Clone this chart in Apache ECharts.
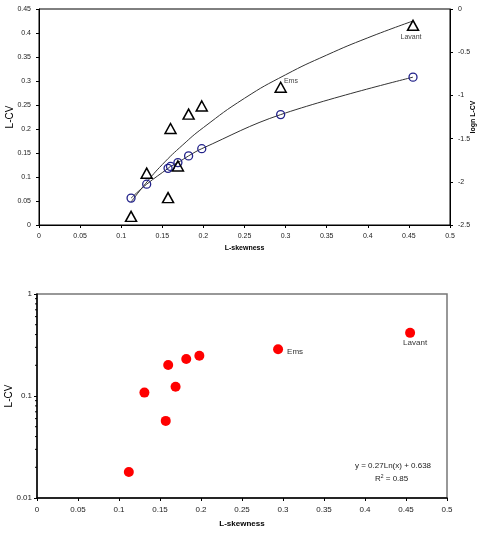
<!DOCTYPE html>
<html>
<head>
<meta charset="utf-8">
<script src="https://cdn.jsdelivr.net/npm/echarts@6/dist/echarts.min.js"></script>
<style>
  html, body { margin: 0; padding: 0; background: #fff; }
  #chart { width: 479px; height: 539px; }
</style>
</head>
<body>
<div id="chart"></div>
<script>
// L-skewness of each station
const skew = [0.112, 0.131, 0.157, 0.160, 0.169, 0.182, 0.198, 0.294, 0.455];
// observed L-CV (triangles / red dots)
const lcv = [0.018, 0.108, 0.057, 0.201, 0.123, 0.231, 0.248, 0.287, 0.416];
// second series, open circles
const circ = [0.056, 0.085, 0.118, 0.122, 0.130, 0.144, 0.159, 0.230, 0.308];
// names shown beside two stations
const names = ['', '', '', '', '', '', '', 'Ems', 'Lavant'];
// upper trend curve
const trendX = [0.112, 0.13, 0.15, 0.175, 0.2, 0.25, 0.3, 0.35, 0.4, 0.455];
const trendY = [0.048, 0.087, 0.126, 0.167, 0.203, 0.264, 0.313, 0.354, 0.390, 0.425];
// log axis minor ticks
const minorTicks = [0.02, 0.03, 0.04, 0.05, 0.06, 0.07, 0.08, 0.09, 0.2, 0.3, 0.4, 0.5, 0.6, 0.7, 0.8, 0.9];

const font = 'Liberation Sans, Arial, sans-serif';
const chart = echarts.init(document.getElementById('chart'));

const pts = (ys) => skew.map((x, i) => [x, ys[i]]);

// label placement for the named stations, top and bottom chart
const topLabel = {
    Ems: { position: 'right', distance: -3, offset: [0, -6] },
    Lavant: { position: 'bottom', distance: 3, offset: [-2, 0] }
};
const botLabel = {
    Ems: { position: 'right', distance: 4, offset: [0, 3] },
    Lavant: { position: 'bottom', distance: 2, offset: [5, -1] }
};
const withLabels = (ys, place) => pts(ys).map((p, i) => {
    const item = { value: p, name: names[i] };
    if (place[names[i]]) item.label = Object.assign({ show: true }, place[names[i]]);
    return item;
});

const tickLabel = { fontSize: 7, color: '#222', fontFamily: font };
const blackLine = { lineStyle: { color: '#000', width: 1 } };

const option = {
    animation: false,
    textStyle: { fontFamily: font },
    grid: [
        { left: 39, top: 9, width: 411, height: 216, outerBoundsMode: 'none', show: true, borderColor: '#000', borderWidth: 1 },
        { left: 37, top: 294, width: 410, height: 204, outerBoundsMode: 'none', show: true, borderColor: '#777', borderWidth: 1.5 }
    ],
    xAxis: [
        {
            gridIndex: 0, type: 'value', min: 0, max: 0.5, interval: 0.05,
            name: 'L-skewness', nameLocation: 'middle', nameGap: 20,
            nameTextStyle: { fontSize: 7, fontWeight: 'bold', color: '#000' },
            axisLine: blackLine, axisTick: { length: 3, lineStyle: { color: '#000' } },
            axisLabel: tickLabel, splitLine: { show: false }
        },
        {
            gridIndex: 1, type: 'value', min: 0, max: 0.5, interval: 0.05,
            name: 'L-skewness', nameLocation: 'middle', nameGap: 22,
            nameTextStyle: { fontSize: 8, fontWeight: 'bold', color: '#000' },
            axisLine: { lineStyle: { color: '#000', width: 1.5 } },
            axisTick: { length: 3, lineStyle: { color: '#000' } },
            axisLabel: { fontSize: 8, color: '#222', fontFamily: font }, splitLine: { show: false }
        }
    ],
    yAxis: [
        {
            gridIndex: 0, type: 'value', min: 0, max: 0.45, interval: 0.05,
            name: 'L-CV', nameLocation: 'middle', nameGap: 24, nameMoveOverlap: false,
            nameTextStyle: { fontSize: 10, color: '#000' },
            axisLine: blackLine, axisTick: { length: 3, lineStyle: { color: '#000' } },
            axisLabel: tickLabel, splitLine: { show: false }
        },
        {
            gridIndex: 0, type: 'value', position: 'right', min: -2.5, max: 0, interval: 0.5,
            name: 'logn L-CV', nameLocation: 'middle', nameGap: 20, nameRotate: 90, nameMoveOverlap: false,
            nameTextStyle: { fontSize: 7, fontWeight: 'bold', color: '#000' },
            axisLine: { show: true, lineStyle: { color: '#000', width: 1 } },
            axisTick: { length: 3, lineStyle: { color: '#000' } },
            axisLabel: tickLabel, splitLine: { show: false }
        },
        {
            gridIndex: 1, type: 'log', logBase: 10, min: 0.01, max: 1,
            name: 'L-CV', nameLocation: 'middle', nameGap: 23, nameMoveOverlap: false,
            nameTextStyle: { fontSize: 10, color: '#000' },
            axisLine: { lineStyle: { color: '#000', width: 1.5 } },
            axisTick: { length: 3, lineStyle: { color: '#000' } },
            axisLabel: { fontSize: 8, color: '#222', fontFamily: font, margin: 5 },
            splitLine: { show: false }
        }
    ],
    series: [
        {
            type: 'line', xAxisIndex: 0, yAxisIndex: 0, smooth: true, showSymbol: false,
            data: trendX.map((x, i) => [x, trendY[i]]),
            lineStyle: { color: '#333', width: 1 }, z: 1
        },
        {
            type: 'line', xAxisIndex: 0, yAxisIndex: 0, smooth: 0.4, showSymbol: false,
            data: pts(circ), lineStyle: { color: '#333', width: 1 }, z: 1
        },
        {
            type: 'scatter', xAxisIndex: 0, yAxisIndex: 0, symbol: 'circle', symbolSize: 8,
            data: pts(circ),
            itemStyle: { color: 'rgba(255,255,255,0)', borderColor: '#22228a', borderWidth: 1.3, opacity: 1 }, z: 3
        },
        {
            type: 'scatter', xAxisIndex: 0, yAxisIndex: 0, symbol: 'triangle', symbolSize: [11, 10],
            data: withLabels(lcv, topLabel),
            itemStyle: { color: 'rgba(255,255,255,0)', borderColor: '#000', borderWidth: 1.5, opacity: 1 },
            label: { show: false, fontSize: 7, color: '#444', formatter: (p) => p.name },
            z: 4
        },
        {
            type: 'scatter', xAxisIndex: 1, yAxisIndex: 2, symbol: 'circle', symbolSize: 10,
            data: withLabels(lcv, botLabel),
            itemStyle: { color: '#ff0000', opacity: 1 },
            label: { show: false, fontSize: 8, color: '#333', formatter: (p) => p.name },
            z: 4
        },
        {
            type: 'custom', xAxisIndex: 1, yAxisIndex: 2, silent: true,
            data: minorTicks.map((v) => [0, v]),
            renderItem: (params, api) => {
                const p = api.coord([0, api.value(1)]);
                return {
                    type: 'line',
                    shape: { x1: p[0] - 2, y1: p[1], x2: p[0], y2: p[1] },
                    style: { stroke: '#000', lineWidth: 1 }
                };
            }
        }
    ],
    graphic: [
        {
            type: 'text', left: 355, top: 462,
            style: { text: 'y = 0.27Ln(x) + 0.638', fontSize: 8, fill: '#222', fontFamily: font }
        },
        {
            type: 'text', left: 375, top: 474,
            style: {
                text: 'R{s|2} = 0.85', fontSize: 8, fill: '#222', fontFamily: font,
                rich: { s: { fontSize: 5, verticalAlign: 'top', padding: [0, 0, 4, 0] } }
            }
        }
    ]
};

chart.setOption(option);
</script>
</body>
</html>
